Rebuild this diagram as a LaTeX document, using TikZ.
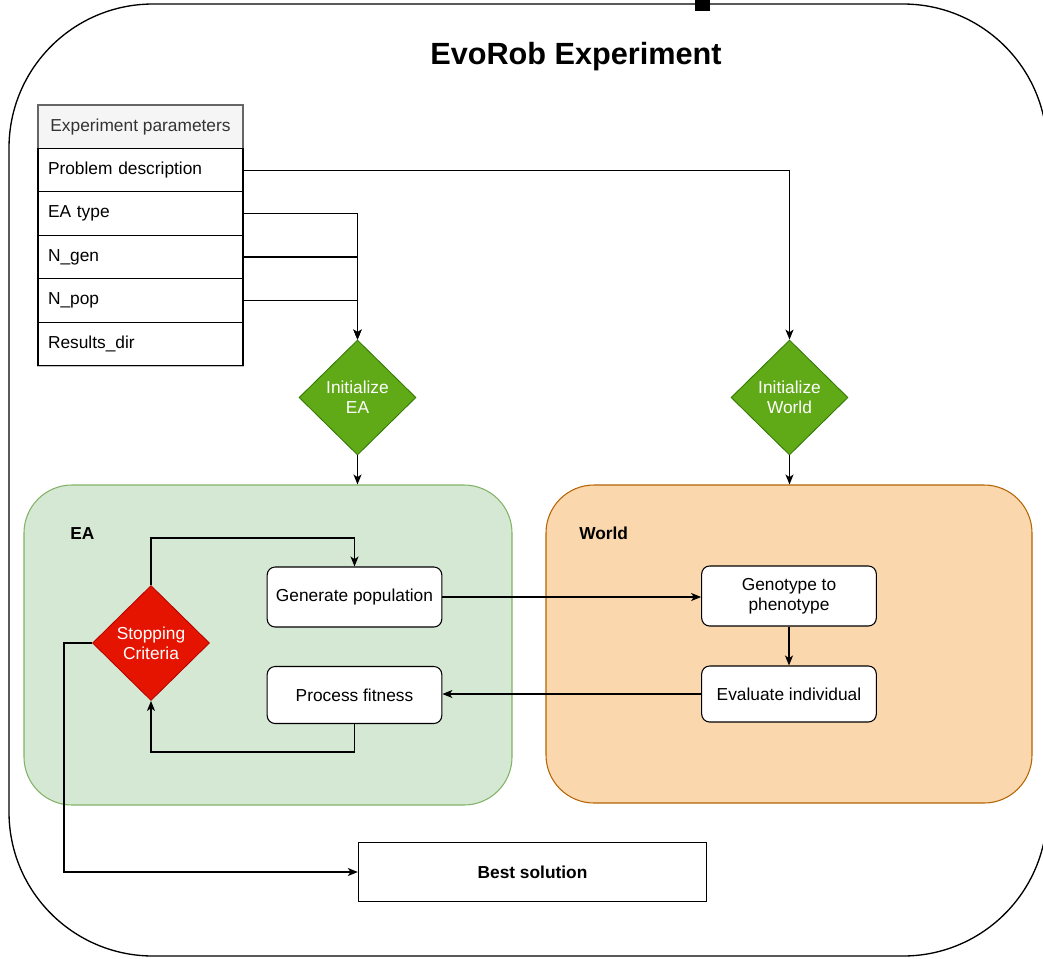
\documentclass[tikz,border=0pt]{standalone}
\usepackage{fontspec}
\setmainfont{Liberation Sans}
\usetikzlibrary{shapes.geometric,arrows.meta}

\definecolor{eafill}{HTML}{D5E8D4}
\definecolor{eastroke}{HTML}{82B366}
\definecolor{wfill}{HTML}{FAD7AC}
\definecolor{wstroke}{HTML}{B46504}
\definecolor{initfill}{HTML}{60A917}
\definecolor{initstroke}{HTML}{2D7600}
\definecolor{stopfill}{HTML}{E51400}
\definecolor{stopstroke}{HTML}{B20000}
\definecolor{hdrfill}{HTML}{F5F5F5}
\definecolor{hdrtext}{HTML}{333333}

\tikzset{
  body/.style={font=\fontsize{13pt}{15pt}\selectfont},
  outerbox/.style={draw=black, line width=1pt, rounded corners=108pt, fill=white,
    minimum width=778.5pt, minimum height=714pt, inner sep=0pt},
  container/.style={draw=#1, line width=0.8pt, rounded corners=36pt, inner sep=0pt},
  hdrcell/.style={body, draw=black!60, line width=0.8pt, fill=hdrfill, text=hdrtext,
    minimum width=153.75pt, minimum height=33pt, inner sep=0pt},
  paramcell/.style={body, draw=black, line width=0.8pt, fill=white,
    minimum width=153.75pt, minimum height=32.6pt, text width=138.75pt,
    inner xsep=7.5pt, inner ysep=0pt, align=left},
  decision/.style={body, diamond, draw=#1, line width=0.6pt, text=white,
    minimum width=87.75pt, minimum height=86.25pt, inner sep=0pt, align=center},
  procbox/.style={body, draw=black, line width=0.8pt, fill=white, rounded corners=6pt,
    minimum width=131pt, minimum height=44pt, inner sep=0pt, align=center},
  grouplabel/.style={font=\fontsize{13pt}{15pt}\selectfont\bfseries, anchor=west, inner sep=0pt},
  arr/.style={draw=black, line width=1pt, -{Stealth[length=7.5pt,width=6pt,inset=2pt]}},
  wire/.style={draw=black, line width=1pt},
}

\begin{document}
\begin{tikzpicture}[x=0.75pt, y=-0.75pt]
\useasboundingbox (0,0) rectangle (1043,958);

% outer frame of the experiment
\node[outerbox] (exp) at (528,480) {};
\fill[black] (695,0) rectangle (710,11);
\node[font=\fontsize{23pt}{27pt}\selectfont\bfseries] (title) at (576,57) {EvoRob Experiment};

% parameter table
\draw[black!25, line width=2.2pt] (38,105) rectangle (243,366);
\node[hdrcell] (hdr) at (140.5,127) {Experiment parameters};
\node[paramcell] (pd)   at (140.5,170.5) {Problem description};
\node[paramcell] (eat)  at (140.5,213.5) {EA type};
\node[paramcell] (ngen) at (140.5,257)   {N\_gen};
\node[paramcell] (npop) at (140.5,300.5) {N\_pop};
\node[paramcell] (rdir) at (140.5,344)   {Results\_dir};

% initialisation steps
\node[decision=initstroke, fill=initfill] (iea) at (357.5,397.5) {Initialize\\EA};
\node[decision=initstroke, fill=initfill] (iw)  at (789.5,397.5) {Initialize\\World};

% EA and World containers
\node[container=eastroke, fill=eafill, minimum width=366pt, minimum height=240pt] (ea) at (268,645) {};
\node[container=wstroke, fill=wfill, minimum width=364.5pt, minimum height=238.5pt] (world) at (789,644) {};
\node[grouplabel] (ealabel) at (70,534) {EA};
\node[grouplabel] (wlabel) at (579,533) {World};

% EA internals
\node[procbox, minimum height=45pt] (gp) at (354.5,597) {Generate population};
\node[procbox, minimum height=42.75pt] (pf) at (354.5,695) {Process fitness};
\node[decision=stopstroke, fill=stopfill] (sc) at (151,643) {Stopping\\Criteria};

% World internals
\node[procbox, minimum height=45pt] (gt) at (789,596) {Genotype to\\phenotype};
\node[procbox, minimum height=42pt] (ev) at (789,694) {Evaluate individual};

% result
\node[body, font=\fontsize{13pt}{15pt}\selectfont\bfseries, draw=black, line width=1pt, fill=white,
  minimum width=261pt, minimum height=44.25pt, inner sep=0pt] (best) at (532.5,872) {Best solution};

% helper coordinates for routed wires
\coordinate (loopTop) at (0,538);
\coordinate (loopBot) at (0,752);
\coordinate (leftRail) at (64,0);

% wires
\draw[arr] (pd.east) -| (iw.north);
\draw[arr] (eat.east) -| (iea.north);
\draw[arr] (ngen.east) -| (iea.north);
\draw[arr] (npop.east) -| (iea.north);
\draw[arr] (iea.south) -- (iea.south |- ea.north);
\draw[arr] (iw.south) -- (iw.south |- world.north);
\draw[arr] (sc.north) -- (sc.north |- loopTop) -| (gp.north);
\draw[arr] (pf.south) -- (pf.south |- loopBot) -| (sc.south);
\draw[arr] (gp.east) -- (gp.east -| gt.west);
\draw[arr] (gt.south) -- (ev.north);
\draw[arr] (ev.west) -- (ev.west -| pf.east);
\draw[arr] (sc.west) -- (sc.west -| leftRail) |- (best.west);
\end{tikzpicture}
\end{document}
